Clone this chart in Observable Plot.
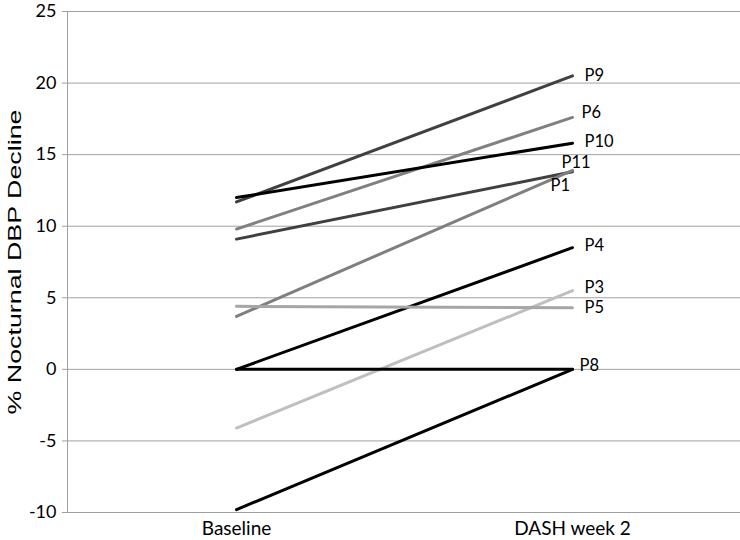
<!DOCTYPE html>
<html>
<head>
<meta charset="utf-8">
<script src="https://cdn.jsdelivr.net/npm/d3@7"></script>
<script src="https://cdn.jsdelivr.net/npm/@observablehq/plot@0.6"></script>
<style>
  html, body { margin: 0; padding: 0; background: #fff; }
  #chart { width: 740px; height: 540px; }
</style>
</head>
<body>
<div id="chart"></div>
<script>
// ---- Data ----
const timepoints = ["Baseline", "DASH week 2"];
const participants = ["P9", "P6", "P10", "P11", "P1", "P4", "P3", "P5", "P8", ""];
const baselineValues = [11.7, 9.8, 12.0, 9.1, 3.7, 0, -4.1, 4.4, 0, -9.8];
const dashWeek2Values = [20.5, 17.6, 15.8, 13.8, 13.9, 8.5, 5.5, 4.3, 0, 0];
const yTicks = [-10, -5, 0, 5, 10, 15, 20, 25];
const yTitle = "% Nocturnal DBP Decline";

// ---- Styles (not data) ----
const lineColors = {
  "P9": "#404040", "P6": "#808080", "P10": "#000000", "P11": "#404040",
  "P1": "#7f7f7f", "P4": "#000000", "P3": "#bfbfbf", "P5": "#a6a6a6",
  "P8": "#000000", "": "#000000"
};
const labelOffsets = {
  "P9": [12, 0], "P6": [9, -5], "P10": [12, -1], "P11": [-11, -9],
  "P1": [-22, 15], "P4": [12, -2], "P3": [12, -3], "P5": [12, 0], "P8": [7, -4]
};

const rows = participants.flatMap((p, i) => [
  {id: p, t: timepoints[0], v: baselineValues[i]},
  {id: p, t: timepoints[1], v: dashWeek2Values[i]}
]);
const ends = rows.filter(d => d.t === timepoints[1] && d.id !== "");

const labelMarks = ends.map(d => Plot.text([d], {
  x: "t", y: "v", text: "id",
  textAnchor: "start",
  dx: labelOffsets[d.id][0], dy: labelOffsets[d.id][1],
  fontSize: 16.5, fill: "#000"
}));

const chart = Plot.plot({
  width: 740, height: 540,
  marginLeft: 67, marginRight: 0, marginTop: 11, marginBottom: 28,
  style: {fontFamily: "Lato", fontSize: "16px", color: "#000", background: "#fff"},
  x: {type: "point", domain: timepoints, padding: 0.5, label: null},
  y: {domain: [-10, 25], label: null},
  marks: [
    Plot.ruleY(yTicks, {stroke: "#a0a0a0", strokeWidth: 1}),
    Plot.frame({anchor: "left", stroke: "#a0a0a0"}),
    Plot.axisY(yTicks, {tickSize: 5, tickPadding: 6, stroke: "#a0a0a0", fontSize: 18,
      label: null, tickFormat: d => String(d)}),
    Plot.axisX({tickSize: 0, tickPadding: 9, fontSize: 19, label: null}),
    Plot.line(rows, {x: "t", y: "v", z: "id", stroke: d => lineColors[d.id], strokeWidth: 3}),
    ...labelMarks,
    Plot.text([yTitle], {frameAnchor: "left", textAnchor: "middle", dx: -52, rotate: -90,
      fontSize: 18, fontFamily: "Liberation Sans", fill: "#000"})
  ]
});
// stretch the axis title along its length, as in the reference
for (const t of chart.querySelectorAll("text")) {
  if (t.textContent === yTitle) {
    t.setAttribute("textLength", 305);
    t.setAttribute("lengthAdjust", "spacingAndGlyphs");
  }
}
document.getElementById("chart").appendChild(chart);
</script>
</body>
</html>
